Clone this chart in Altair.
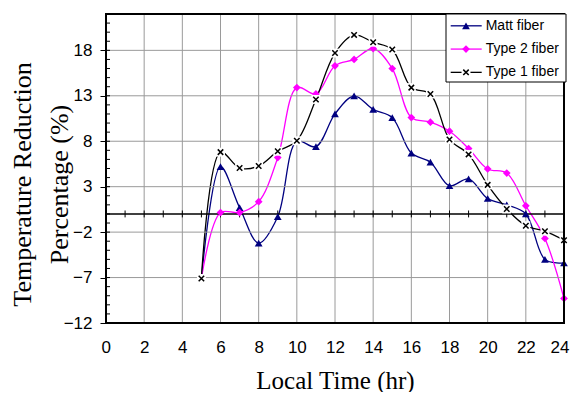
import altair as alt
import pandas as pd

# ---- data ----
hours = [5, 6, 7, 8, 9, 10, 11, 12, 13, 14, 15, 16, 17, 18, 19, 20, 21, 22, 23, 24]
matt = [-7.1, 5.2, 0.7, -3.2, -0.3, 8.0, 7.4, 11.0, 13.0, 11.5, 10.6, 6.7, 5.7, 3.1, 3.85, 1.7, 1.0, 0.0, -5.0, -5.4]
type2 = [-7.1, 0.15, 0.15, 1.35, 6.2, 13.9, 13.2, 16.3, 17.0, 18.2, 16.0, 10.6, 10.1, 9.1, 7.2, 4.95, 4.5, 0.9, -2.7, -9.3]
type1 = [-7.1, 6.8, 5.05, 5.27, 6.9, 8.05, 12.6, 17.7, 19.7, 18.9, 18.1, 13.9, 13.2, 8.2, 6.55, 3.2, 0.55, -1.3, -1.9, -2.9]

names = ["Matt fiber", "Type 2 fiber", "Type 1 fiber"]
colors = ["#000080", "#FF00FF", "#000000"]

x_ticks = [0, 2, 4, 6, 8, 10, 12, 14, 16, 18, 20, 22, 24]
y_ticks = [-12, -7, -2, 3, 8, 13, 18]
x_minor = list(range(0, 25))
y_minor = list(range(-12, 23))

rows = []
for name, vals in zip(names, [matt, type2, type1]):
    for h, v in zip(hours, vals):
        rows.append({"hour": h, "value": v, "series": name})
df = pd.DataFrame(rows)
legend_df = pd.DataFrame({"series": names})
xminor_df = pd.DataFrame({"hour": x_minor})
yminor_df = pd.DataFrame({"value": y_minor})
xgrid_df = pd.DataFrame({"hour": x_ticks})
ygrid_df = pd.DataFrame({"value": y_ticks})

SANS = "Liberation Sans"
SERIF = "Liberation Serif"
W, H = 458, 309

xscale = alt.Scale(domain=[0, 24], nice=False, zero=False)
yscale = alt.Scale(domain=[-12, 22], nice=False, zero=False)
cscale = alt.Scale(domain=names, range=colors)

AX = alt.Axis(values=x_ticks, grid=False, ticks=False, domain=False,
              labelFont=SANS, labelFontSize=17, labelColor="black", labelPadding=16,
              labelOverlap=False, labelFlush=True, labelFlushOffset=5, labelBound=False,
              title="Local Time (hr)", titleFont=SERIF, titleFontSize=25,
              titleFontWeight="normal", titleColor="black",
              titleY=65, titleBaseline="alphabetic")
AY = alt.Axis(values=y_ticks, grid=False, ticks=True, tickSize=6, tickColor="black",
              domain=False, labelFont=SANS, labelFontSize=17, labelColor="black",
              labelPadding=8, labelOverlap=False, labelFlush=False,
              title=["Temperature Reduction", "Percentage (%)"], titleFont=SERIF,
              titleFontSize=26, titleFontWeight="normal", titleColor="black",
              titleLineHeight=37, titleX=-71, titleY=170, titleBaseline="bottom",
              titleAngle=270)

X = alt.X("hour:Q", scale=xscale, axis=AX)
Y = alt.Y("value:Q", scale=yscale, axis=AY)
GRID = "#9a9a9a"

# grid lines
vgrid = alt.Chart(xgrid_df).mark_rule(color=GRID, strokeWidth=1).encode(
    x=X, y=alt.value(0), y2=alt.value(H))
hgrid = alt.Chart(ygrid_df).mark_rule(color=GRID, strokeWidth=1).encode(
    y=Y, x=alt.value(0), x2=alt.value(W))

base = alt.Chart(df)

lines = base.mark_line(interpolate="catmull-rom", strokeWidth=1.3).encode(
    x=X, y=Y, color=alt.Color("series:N", scale=cscale, legend=None), detail="series:N")

tri_dia = base.transform_filter(alt.datum.series != "Type 1 fiber").mark_point(
    filled=True, size=60, opacity=1).encode(
    x=X, y=Y,
    color=alt.Color("series:N", scale=cscale, legend=None),
    shape=alt.Shape("series:N", scale=alt.Scale(domain=names[:2], range=["triangle-up", "diamond"]), legend=None))

xbox = base.transform_filter(alt.datum.series == "Type 1 fiber").mark_square(
    size=80, color="white", opacity=1).encode(x=X, y=Y)
xmark = base.transform_filter(alt.datum.series == "Type 1 fiber").mark_point(
    shape="M-1,-1L1,1M-1,1L1,-1", size=30, color="black", strokeWidth=1.5, opacity=1).encode(
    x=X, y=Y)

zero_rule = alt.Chart(xminor_df).transform_filter(alt.datum.hour == 0).mark_rule(
    color="black", strokeWidth=1.5).encode(
    y=alt.YDatum(0, scale=yscale, axis=AY), x=alt.value(0), x2=alt.value(W))
zero_ticks = alt.Chart(xminor_df).mark_rule(color="black", strokeWidth=1).encode(
    x=X, y=alt.YDatum(-0.38, scale=yscale, axis=AY), y2=alt.datum(0.38))
y_minor_ticks = alt.Chart(yminor_df).mark_rule(color="black", strokeWidth=1).encode(
    y=Y, x=alt.value(0), x2=alt.value(4))

frame = alt.Chart(pd.DataFrame({"k": [1]})).mark_rect(
    fill="transparent", stroke="black", strokeWidth=2).encode(
    x=alt.value(0), x2=alt.value(W), y=alt.value(0), y2=alt.value(H))

# ---- legend box (inside top-right of plot) ----
lg = alt.Chart(legend_df).transform_window(idx="row_number()").transform_calculate(
    value="20.7 - (datum.idx - 1) * 2.56")
box = alt.Chart(pd.DataFrame({"k": [1]})).mark_rect(fill="white", stroke="black", strokeWidth=1).encode(
    x=alt.value(340), x2=alt.value(460), y=alt.value(0), y2=alt.value(68))
lrule = lg.mark_rule(strokeWidth=1.3).encode(
    x=alt.value(344.7), x2=alt.value(375.7), y=Y,
    color=alt.Color("series:N", scale=cscale, legend=None))
lpts = lg.transform_filter(alt.datum.series != "Type 1 fiber").mark_point(
    filled=True, size=60, opacity=1).encode(
    x=alt.value(360), y=Y, color=alt.Color("series:N", scale=cscale, legend=None),
    shape=alt.Shape("series:N", scale=alt.Scale(domain=names[:2], range=["triangle-up", "diamond"]), legend=None))
lbox = lg.transform_filter(alt.datum.series == "Type 1 fiber").mark_square(
    size=80, color="white", opacity=1).encode(x=alt.value(360), y=Y)
lx = lg.transform_filter(alt.datum.series == "Type 1 fiber").mark_point(
    shape="M-1,-1L1,1M-1,1L1,-1", size=30, color="black", strokeWidth=1.5, opacity=1).encode(
    x=alt.value(360), y=Y)
ltext = lg.mark_text(align="left", baseline="middle", font=SANS, fontSize=14, color="black").encode(
    x=alt.value(379.7), y=Y, text="series:N")

chart = alt.layer(lines, vgrid, hgrid, zero_rule, zero_ticks, y_minor_ticks, tri_dia, xbox, xmark,
                  frame, box, lrule, lpts, lbox, lx, ltext).properties(
    width=W, height=H,
    background="white",
    autosize=alt.AutoSizeParams(type="none"),
    padding={"left": 98, "top": 6, "right": 6, "bottom": 69},
).configure_view(stroke=None)

chart.save("out.html", embed_options={"renderer": "svg", "actions": False})
